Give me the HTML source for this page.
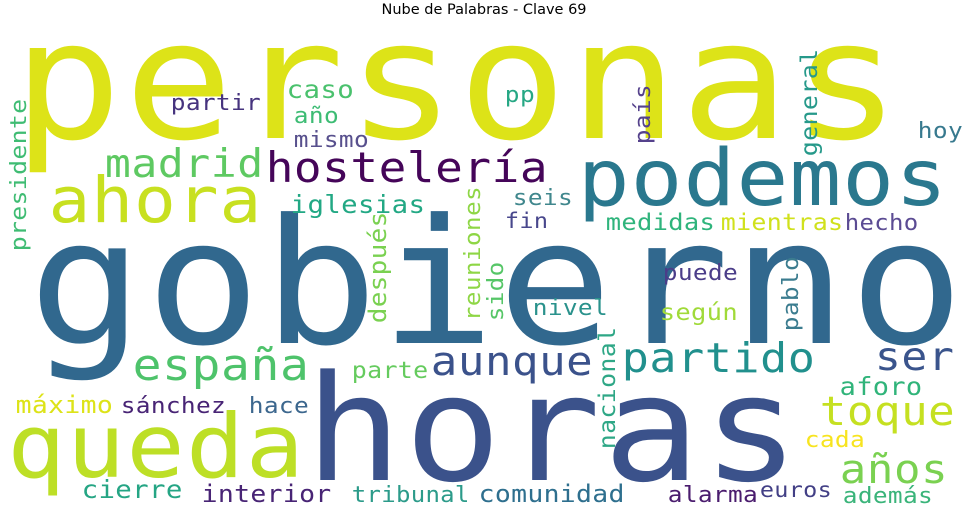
<!DOCTYPE html>
<html><head><meta charset="utf-8"><style>
html,body{margin:0;padding:0;background:#fff;}
svg{display:block;}
text{font-family:"DejaVu Sans Mono","Liberation Mono",monospace;}
</style></head><body>
<svg id="cloud" width="969" height="507" viewBox="0 0 969 507" xmlns="http://www.w3.org/2000/svg">
<rect width="969" height="507" fill="#fff"/>
<text x="484" y="14" text-anchor="middle" font-size="14.5" fill="#000" style="font-family:'DejaVu Sans','Liberation Sans',sans-serif">Nube de Palabras - Clave 69</text>
</svg>
<script>
const words = ["personas","gobierno","horas","queda","podemos","ahora","hostelería","madrid","españa","aunque","partido","ser","toque","años","presidente","caso","partir","año","mismo","iglesias","después","reuniones","pp","país","general","hoy","seis","fin","medidas","mientras","hecho","parte","máximo","sánchez","hace","cierre","interior","tribunal","comunidad","sido","puede","nivel","según","pablo","nacional","aforo","cada","alarma","euros","además"];
const sizes = [185,195,165,99,88,71,47,44,49,45,46,44,45,45,25.4,28,25,25,25,28,26.6,25,25,25,25.6,25,25,24,26,25.5,24.5,25.5,27,25,25,28,27,24.5,27,24.8,25,25,26,25,25.5,27.5,25,25,24,25];
const colors = ["#dde318","#31688e","#3b528b","#bddf26","#2a788e","#c8e020","#450559","#5ec962","#4ec36b","#3b528b","#21908d","#3a548c","#c5e021","#7ad151","#3fbc73","#4ac16d","#46337e","#3dbc74","#58508d","#22a884","#7ad151","#8ed645","#26a784","#55428c","#26998a","#37798e","#40878d","#48478c","#2fb47c","#d0e11c","#5b4b93","#65cb5e","#dde318","#482475","#3c678e","#25a584","#482475","#2c9b8a","#2e6f8e","#56c667","#4b3d89","#2a928c","#a0da39","#3b7c8f","#2ea786","#30b47a","#f7e41f","#4a1c6e","#423f85","#3ab47a"];
// layout: [inkStart, baseline, vertical] (for vertical: inkStart = bottom y, baseline = x)
const layout = [[22,138,0],[38,343,0],[313,480,0],[12,477,0],[582,205,0],[52,222,0],[268,182,0],[107,177,0],[135,380,0],[433,375,0],[624,372,0],[877,370,0],[822,425,0],[842,483,0],
[250,26,1],[288,98,0],[172,110,0],[295,123,0],[295,147,0],[292,213,0],[322,386,1],[320,480,1],[506,102,0],[143,650,1],[155,817,1],[919,138,0],[514,205,0],[506,228,0],[607,230,0],[722,230,0],[846,230,0],[353,378,0],[17,413,0],[122,413,0],[250,413,0],[83,498,0],[203,502,0],[353,502,0],[480,502,0],[320,503,1],[664,280,0],[534,315,0],[661,320,0],[330,798,1],[448,615,1],[841,395,0],[806,447,0],[669,502,0],[761,497,0],[844,503,0]];
const VSCALE = 0.89;
const SX = 1.1;
const svg = document.getElementById('cloud');
const NS = "http://www.w3.org/2000/svg";
for (let i = 0; i < words.length; i++) {
  const fs = sizes[i];
  const L = layout[i];
  const fsr = fs * VSCALE;
  const n = words[i].length;
  const t = document.createElementNS(NS, 'text');
  
  
  t.setAttribute('font-size', fsr);
  const ink = (0.6 * n - 0.1) * fs;
  const tl = (ink + 0.1 * fsr * SX) / SX;
  t.setAttribute('textLength', tl);
  t.setAttribute('lengthAdjust', 'spacing');
  t.setAttribute('fill', colors[i]);
  t.setAttribute('x', 0);
  t.setAttribute('y', 0);
  if (L[2]) {
    t.setAttribute('transform', 'translate(' + L[1] + ',' + (L[0] + 0.05 * fsr * SX) + ') rotate(-90) scale(' + SX + ',1)');
  } else {
    t.setAttribute('transform', 'translate(' + (L[0] - 0.05 * fsr * SX) + ',' + L[1] + ') scale(' + SX + ',1)');
  }
  t.textContent = words[i];
  svg.appendChild(t);
}
</script>
</body></html>
